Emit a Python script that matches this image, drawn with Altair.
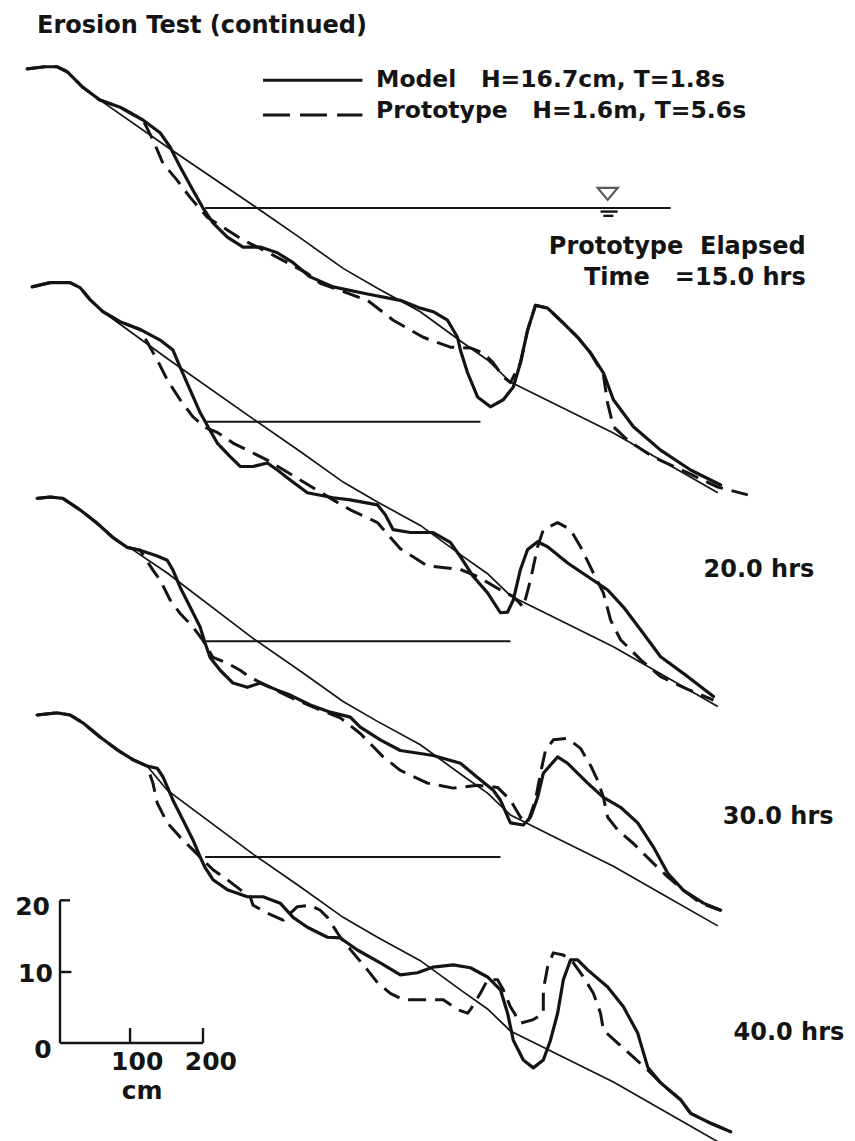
import altair as alt
import pandas as pd

# ---------------- data (distance in cm, elevation in cm relative to SWL) ----------------
PANELS = ["15.0 hrs", "20.0 hrs", "30.0 hrs", "40.0 hrs"]

# initial (undisturbed) profile: the seaward part is common to every panel,
# the landward start is read per panel where it leaves the eroded profile
INIT_HEAD_X = [[56, 150], [60, 150], [100, 150], [122, 150]]
INIT_HEAD_Y = [[15.2, 8.6], [15.5, 8.9], [13.0, 9.6], [12.8, 9.4]]
INIT_X = [270, 336, 396, 444, 504, 564, 598, 630, 644, 690, 738, 774, 840, 920]
INIT_Y = [0.4, -4.2, -8.5, -11.3, -14.6, -19.0, -21.4, -24.5, -25.2, -27.5,
          -29.9, -31.7, -35.5, -40.1]

# 15.0 hrs
M1_X = [-46, -21, -4, 10, 32, 56, 84, 116, 140, 154, 168, 186, 200, 214, 234, 256, 280, 304, 326,
        350, 382, 430, 476, 504, 522, 542, 556, 560, 570, 584, 602, 620, 634, 644, 654, 665, 682,
        704, 724, 742, 760, 774, 802, 840, 882, 924]
M1_Y = [19.6, 19.9, 19.9, 19.2, 17.0, 15.2, 14.2, 12.4, 10.6, 8.6, 5.8, 2.5, 0, -2.1, -4.1, -5.5,
        -5.5, -6.3, -7.7, -9.7, -11.1, -12.1, -13.0, -14.1, -14.6, -15.8, -18.2, -20.0, -23.2,
        -26.6, -28.0, -27.0, -25.2, -21.8, -17.2, -13.7, -14.1, -16.2, -18.2, -20.4, -23.2, -27.0,
        -30.8, -34.1, -36.9, -39.0]
P1_X = [-46, -21, -4, 10, 32, 56, 84, 116, 130, 144, 164, 182, 206, 234, 256, 284, 318, 346, 364,
        430, 466, 508, 546, 574, 592, 606, 620, 630, 644, 654, 665, 682, 704, 724, 742, 760, 766,
        774, 794, 830, 878, 920, 962]
P1_Y = [19.6, 19.9, 19.9, 19.2, 17.0, 15.2, 14.2, 12.4, 9.6, 6.3, 3.9, 1.5, -1.3, -3.1, -4.5, -5.9,
        -7.7, -9.2, -10.6, -13.0, -15.8, -18.2, -19.6, -19.7, -20.4, -21.8, -23.8, -24.6, -21.8,
        -17.2, -13.7, -14.1, -16.2, -18.2, -20.4, -23.5, -27.5, -30.8, -32.7, -35.1, -37.3, -39.3,
        -40.4]

# 20.0 hrs
M2_X = [-39, -14, 14, 28, 42, 60, 84, 112, 140, 158, 168, 182, 196, 207, 220, 238, 252, 270, 290,
        304, 322, 346, 382, 406, 444, 455, 466, 490, 522, 546, 560, 578, 598, 616, 626, 634, 644,
        654, 668, 682, 710, 738, 766, 788, 812, 840, 878, 914]
M2_Y = [19.0, 19.6, 19.6, 18.9, 17.2, 15.5, 14.1, 13.0, 11.5, 10.1, 7.7, 4.5, 1.3, -0.7, -3.0,
        -4.9, -6.3, -6.3, -5.8, -6.8, -8.2, -10.0, -10.7, -11.0, -11.7, -13.1, -15.2, -15.6, -15.6,
        -17.0, -19.0, -21.8, -24.1, -26.9, -26.8, -25.1, -20.8, -18.0, -16.9, -17.6, -19.9, -21.8,
        -23.7, -26.1, -29.3, -33.1, -35.9, -38.7]
P2_X = [-39, -14, 14, 28, 42, 60, 84, 112, 136, 150, 168, 186, 203, 220, 242, 270, 290, 336, 382,
        406, 444, 476, 514, 560, 584, 616, 634, 648, 658, 668, 676, 696, 714, 728, 746, 760, 770,
        784, 812, 840, 878, 914]
P2_Y = [19.0, 19.6, 19.6, 18.9, 17.2, 15.5, 14.1, 13.0, 8.7, 5.9, 3.1, 0.7, -0.8, -1.5, -3.0, -4.4,
        -5.4, -8.2, -11.0, -12.4, -14.2, -17.9, -20.3, -20.8, -21.8, -23.7, -24.6, -26.1, -22.3,
        -17.6, -15.2, -14.2, -15.2, -17.6, -21.3, -24.1, -27.9, -30.7, -33.5, -35.9, -37.7, -39.2]

# 30.0 hrs
M3_X = [-32, -14, 4, 28, 52, 74, 94, 112, 136, 150, 158, 168, 182, 196, 203, 210, 224, 242, 262,
        280, 304, 322, 350, 378, 406, 420, 448, 476, 522, 560, 584, 606, 616, 630, 648, 658, 668,
        676, 696, 710, 738, 760, 784, 808, 830, 850, 872, 900, 924]
M3_Y = [20.1, 20.3, 20.1, 18.5, 16.6, 14.6, 13.2, 12.8, 12.0, 11.4, 10.0, 7.6, 4.8, 2.0, -0.3,
        -2.3, -4.1, -5.9, -6.5, -5.9, -6.9, -7.6, -9.0, -10.0, -10.7, -12.1, -13.9, -15.4, -16.1,
        -17.2, -19.2, -21.0, -22.4, -25.6, -25.9, -24.8, -22.0, -18.6, -16.3, -17.2, -20.0, -22.0,
        -23.4, -25.6, -29.0, -32.7, -35.1, -36.9, -37.9]
P3_X = [-32, -14, 4, 28, 52, 74, 94, 112, 130, 140, 154, 168, 186, 200, 214, 234, 252, 266, 322,
        364, 392, 420, 452, 476, 514, 550, 584, 612, 630, 644, 654, 665, 672, 679, 690, 710, 728,
        742, 752, 760, 766, 780, 802, 830, 850, 872, 896, 924]
P3_Y = [20.1, 20.3, 20.1, 18.5, 16.6, 14.6, 13.2, 12.8, 10.0, 8.6, 5.8, 3.9, 2.0, 0.1, -2.3, -3.1,
        -4.1, -5.1, -7.9, -9.7, -10.8, -13.0, -16.3, -18.2, -20.0, -20.7, -20.3, -20.6, -22.4,
        -24.8, -25.6, -22.4, -18.6, -15.4, -13.9, -13.7, -15.1, -17.5, -19.6, -22.0, -24.8, -26.6,
        -28.5, -31.3, -33.2, -35.1, -36.9, -37.9]

# 40.0 hrs
M4_X = [-32, -4, 14, 32, 56, 80, 102, 122, 136, 144, 150, 158, 172, 186, 196, 203, 214, 234, 262,
        284, 308, 326, 346, 374, 392, 416, 448, 476, 500, 522, 550, 574, 598, 616, 626, 634, 648,
        662, 676, 686, 696, 704, 714, 724, 738, 766, 788, 808, 822, 840, 868, 882, 910, 938]
M4_Y = [20.0, 20.3, 20.0, 18.9, 16.9, 15.1, 13.7, 12.8, 12.5, 11.3, 9.9, 8.0, 5.2, 2.4, 0, -1.5,
        -3.2, -4.6, -5.6, -5.6, -6.5, -8.5, -9.9, -11.3, -11.4, -13.1, -14.9, -16.6, -16.3, -15.5,
        -15.2, -15.6, -16.9, -18.7, -22.0, -25.8, -28.6, -29.7, -28.6, -25.8, -22.0, -17.3, -14.5,
        -14.5, -15.9, -18.3, -21.1, -24.8, -29.6, -31.8, -34.2, -36.1, -37.5, -38.7]
P4_X = [-32, -4, 14, 32, 56, 80, 102, 122, 130, 136, 150, 168, 186, 196, 214, 234, 252, 266, 270,
        290, 312, 332, 350, 364, 374, 392, 410, 430, 444, 462, 480, 514, 536, 556, 570, 574, 588,
        598, 612, 620, 630, 644, 662, 676, 676, 682, 690, 704, 718, 732, 746, 756, 760, 780, 802,
        822, 840, 868, 882, 910, 938]
P4_Y = [20.0, 20.3, 20.0, 18.9, 16.9, 15.1, 13.7, 12.8, 10.4, 7.6, 4.8, 2.8, 1.0, 0, -1.8, -3.2,
        -4.6, -5.6, -6.8, -7.9, -8.9, -7.0, -6.8, -7.5, -8.5, -11.3, -13.5, -15.9, -17.7, -19.2,
        -20.1, -20.1, -20.1, -21.5, -22.0, -21.5, -19.2, -17.3, -17.3, -18.7, -21.1, -23.4, -22.9,
        -22.0, -18.7, -15.5, -13.5, -13.8, -14.9, -16.9, -19.2, -22.0, -24.4, -26.2, -28.2, -30.0,
        -31.8, -34.2, -36.1, -37.5, -38.7]

# still water line extent (cm) per panel
SWL_START = [203, 203, 203, 203]
SWL_END = [854, 588, 630, 616]

# ---------------- layout: vertical stacking of the four profiles ----------------
SWL_LEVEL = [117.6, 87.5, 56.6, 26.2]

MODEL = [(M1_X, M1_Y), (M2_X, M2_Y), (M3_X, M3_Y), (M4_X, M4_Y)]
PROTO = [(P1_X, P1_Y), (P2_X, P2_Y), (P3_X, P3_Y), (P4_X, P4_Y)]
INIT = [(hx + INIT_X, hy + INIT_Y) for hx, hy in zip(INIT_HEAD_X, INIT_HEAD_Y)]


def frame(pairs):
    rows = []
    for k, (xs, ys) in enumerate(pairs):
        for i, (x, y) in enumerate(zip(xs, ys)):
            rows.append({"panel": PANELS[k], "i": i, "x": x, "y": y + SWL_LEVEL[k]})
    return pd.DataFrame(rows)


df_model = frame(MODEL)
df_proto = frame(PROTO)
df_init = frame(INIT)
df_swl = pd.DataFrame({"panel": PANELS, "x": SWL_START, "x2": SWL_END, "y": SWL_LEVEL})

xs = alt.Scale(domain=[-83.9, 1111.9], nice=False, zero=False)
ys = alt.Scale(domain=[-13.8, 146.9], nice=False, zero=False)
X = alt.X("x:Q", scale=xs, axis=None)
Y = alt.Y("y:Q", scale=ys, axis=None)
INK = "#141414"

model = alt.Chart(df_model).mark_line(color=INK, strokeWidth=3.2, strokeJoin="round",
                                      strokeCap="round").encode(
    x=X, y=Y, detail="panel:N", order="i:Q")
proto = alt.Chart(df_proto).mark_line(color=INK, strokeWidth=3, strokeDash=[18, 9],
                                      strokeJoin="round").encode(
    x=X, y=Y, detail="panel:N", order="i:Q")
init = alt.Chart(df_init).mark_line(color=INK, strokeWidth=1.7).encode(
    x=X, y=Y, detail="panel:N", order="i:Q")
swl = alt.Chart(df_swl).mark_rule(color=INK, strokeWidth=2).encode(
    x=X, x2="x2:Q", y=Y)

# ---------------- legend, scale bar and annotations ----------------
leg_lines = pd.DataFrame({"kind": ["Model", "Prototype"], "x": [284, 284], "x2": [423, 423],
                          "y": [135.6, 130.7]})
leg_solid = alt.Chart(leg_lines[leg_lines.kind == "Model"]).mark_rule(
    color=INK, strokeWidth=2.8).encode(x=X, x2="x2:Q", y=Y)
leg_dash = alt.Chart(leg_lines[leg_lines.kind == "Prototype"]).mark_rule(
    color=INK, strokeWidth=2.8, strokeDash=[27, 10]).encode(x=X, x2="x2:Q", y=Y)

bar = pd.DataFrame({
    "x": [0, 0, 0, 0, 98, 200],
    "x2": [0, 14, 16, 200, 98, 200],
    "y": [0, 20.1, 10.0, 0, 0, 0],
    "y2": [20.1, 20.1, 10.0, 0, 2.1, 2.1],
})
scalebar = alt.Chart(bar).mark_rule(color=INK, strokeWidth=2.4).encode(
    x=X, x2="x2:Q", y=Y, y2="y2:Q")

swl_mark = pd.DataFrame({"x": [766], "y": [119.6]})
tri = alt.Chart(swl_mark).mark_point(shape="M-1,-0.6L1,-0.6L0,0.6Z", size=400, filled=False,
                                     color=INK, strokeWidth=2.2).encode(x=X, y=Y)
swl_ticks = pd.DataFrame({"x": [756, 760], "x2": [780, 774], "y": [117.1, 116.5]})
ticks = alt.Chart(swl_ticks).mark_rule(color=INK, strokeWidth=2.4).encode(x=X, x2="x2:Q", y=Y)

FONT = "DejaVu Sans"
SP = "\u00a0"


def texts(rows, align, size):
    d = pd.DataFrame(rows, columns=["x", "y", "text"])
    return alt.Chart(d).mark_text(align=align, baseline="middle", font=FONT, fontWeight="bold",
                                  fontSize=size, color=INK).encode(x=X, y=Y, text="text:N")


t_title = texts([(-32, 143.2, "Erosion Test (continued)")], "left", 24)
t_legend = texts([
    (442, 135.6, "Model" + SP * 3 + "H=16.7cm, T=1.8s"),
    (442, 131.3, "Prototype" + SP * 3 + "H=1.6m, T=5.6s"),
], "left", 23.5)
t_hours = texts([
    (900, 66.6, "20.0 hrs"),
    (927, 31.8, "30.0 hrs"),
    (942, 1.4, "40.0 hrs"),
], "left", 24)
t_right = texts([
    (1043, 112.1, "Prototype" + SP * 2 + "Elapsed"),
    (1043, 107.7, "Time" + SP * 3 + "=15.0 hrs"),
], "right", 24)
t_scale_r = texts([(-14, 19.2, "20"), (-10, 9.7, "10")], "right", 25)
t_scale_c = texts([(-24, -1.0, "0"), (108, -2.7, "100"), (211, -2.7, "200"),
                   (115, -6.8, "cm")], "center", 25)

chart = alt.layer(
    init, swl, model, proto, leg_solid, leg_dash, scalebar, tri, ticks,
    t_title, t_legend, t_hours, t_right, t_scale_r, t_scale_c,
).properties(
    width=855, height=1141, padding=0, autosize=alt.AutoSizeParams(type="none"),
    background="white",
).configure_view(stroke=None)

chart.save("out.html", embed_options={"renderer": "svg", "actions": False})
